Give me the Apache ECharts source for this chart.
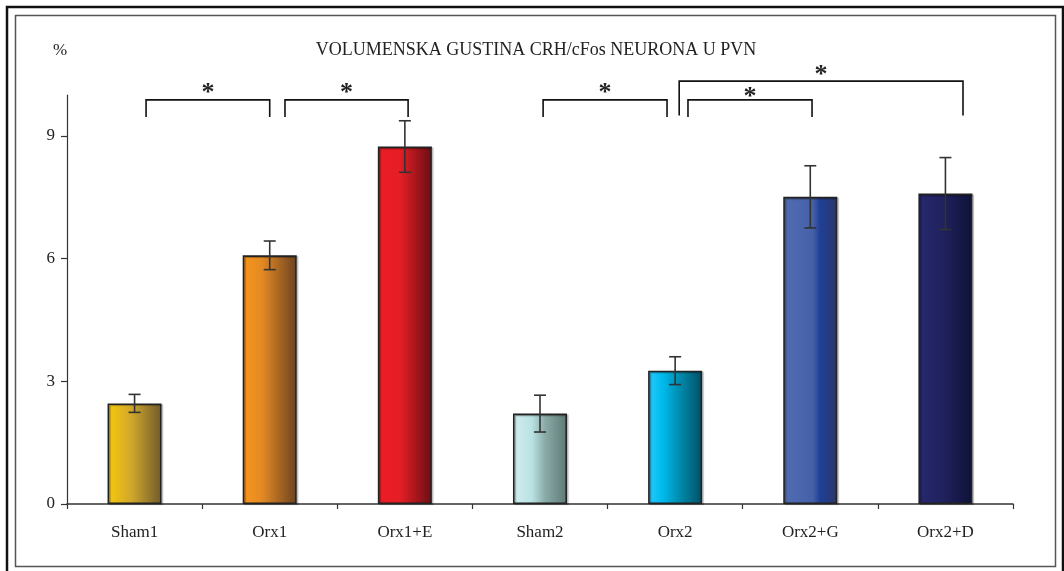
<!DOCTYPE html>
<html>
<head>
<meta charset="utf-8">
<script src="https://cdn.jsdelivr.net/npm/echarts@6/dist/echarts.min.js"></script>
<style>
  html, body { margin: 0; padding: 0; background: #ffffff; }
  #chart { width: 1064px; height: 571px; }
</style>
</head>
<body>
<div id="chart"></div>
<script>
// Groups and measured values (percent volume density, mean ± SEM)
const categories = ['Sham1', 'Orx1', 'Orx1+E', 'Sham2', 'Orx2', 'Orx2+G', 'Orx2+D'];
const means = [2.46, 6.08, 8.74, 2.21, 3.26, 7.51, 7.59];
const sems = [0.22, 0.35, 0.63, 0.45, 0.34, 0.76, 0.88];
const yTicks = [0, 3, 6, 9];

// Significance brackets: [fromGroup, fromShift, toGroup, toShift, barLevel, legEnd, starLevel]
const brackets = [
  [0, 0.085, 1, 0.0, 9.88, 9.46, 10.20],
  [1, 0.113, 2, 0.024, 9.88, 9.46, 10.20],
  [3, 0.023, 4, -0.06, 9.88, 9.46, 10.20],
  [4, 0.095, 5, 0.013, 9.88, 9.46, 10.10],
  [4, 0.03, 6, 0.13, 10.34, 9.50, 10.64]
];

// Horizontal gradient per bar (light on the left, shaded on the right)
const barGradients = [
  [[0, '#f8ca0c'], [0.45, '#cfa62c'], [1, '#6f5a2c']],
  [[0, '#f8951c'], [0.35, '#e48a24'], [1, '#6b4321']],
  [[0, '#ec1c24'], [0.4, '#e61e26'], [1, '#6a0e13']],
  [[0, '#d3edf1'], [0.35, '#b9e2e3'], [0.6, '#89aaa7'], [1, '#5e7974']],
  [[0, '#2cc8f6'], [0.25, '#00bdf0'], [0.6, '#0089ab'], [1, '#004f66']],
  [[0, '#506db2'], [0.55, '#4660a8'], [0.68, '#1f4096'], [1, '#2c3568']],
  [[0, '#28296f'], [0.5, '#1f205b'], [1, '#0d1238']]
];

const serif = '"Liberation Serif", "DejaVu Serif", serif';
const chart = echarts.init(document.getElementById('chart'), null, { renderer: 'canvas' });

const barData = means.map((v, i) => ({
  value: v,
  itemStyle: {
    color: new echarts.graphic.LinearGradient(0, 0, 1, 0,
      barGradients[i].map(s => ({ offset: s[0], color: s[1] })))
  }
}));

const errData = means.map((v, i) => [i, v - sems[i], v + sems[i]]);

chart.setOption({
  animation: false,
  backgroundColor: '#ffffff',
  title: [
    {
      text: 'VOLUMENSKA GUSTINA CRH/cFos NEURONA U PVN',
      left: 531, top: 36, textAlign: 'center',
      textStyle: { fontFamily: serif, fontSize: 18, fontWeight: 'normal', color: '#222' }
    },
    {
      text: '%',
      left: 55, top: 37, textAlign: 'center',
      textStyle: { fontFamily: serif, fontSize: 17, fontWeight: 'normal', color: '#222' }
    }
  ],
  grid: { left: 67, right: 51, top: 95, bottom: 67, containLabel: false },
  xAxis: {
    type: 'category',
    data: categories,
    axisLine: { lineStyle: { color: '#333', width: 1.5 } },
    axisTick: { show: true, length: 5, lineStyle: { color: '#333', width: 1.2 } },
    axisLabel: { margin: 20, fontFamily: serif, fontSize: 17, color: '#222' }
  },
  yAxis: {
    type: 'value',
    min: 0, max: 10,
    axisLine: { show: true, lineStyle: { color: '#333', width: 1.2 } },
    axisTick: { show: true, length: 6, customValues: yTicks, lineStyle: { color: '#333', width: 1.2 } },
    axisLabel: { customValues: yTicks, margin: 12, fontFamily: serif, fontSize: 17, color: '#222' },
    splitLine: { show: false }
  },
  series: [
    {
      type: 'bar',
      data: barData,
      barWidth: '40%',
      itemStyle: {
        borderColor: '#222', borderWidth: 1.6,
        shadowColor: 'rgba(0,0,0,0.3)', shadowOffsetX: 1.5, shadowOffsetY: 1, shadowBlur: 1
      },
      z: 2
    },
    {
      type: 'custom',
      data: errData,
      encode: { x: 0, y: [1, 2] },
      z: 5,
      renderItem: function (params, api) {
        const x = api.value(0);
        const lo = api.coord([x, api.value(1)]);
        const hi = api.coord([x, api.value(2)]);
        const half = 6;
        const style = { stroke: '#333', lineWidth: 1.6 };
        return {
          type: 'group',
          children: [
            { type: 'line', shape: { x1: hi[0], y1: hi[1], x2: lo[0], y2: lo[1] }, style },
            { type: 'line', shape: { x1: hi[0] - half, y1: hi[1], x2: hi[0] + half, y2: hi[1] }, style },
            { type: 'line', shape: { x1: lo[0] - half, y1: lo[1], x2: lo[0] + half, y2: lo[1] }, style }
          ]
        };
      }
    }
  ]
});

// Significance brackets and page frame, placed through the axis scales
const p0 = chart.convertToPixel({ gridIndex: 0 }, [0, 0]);
const p1 = chart.convertToPixel({ gridIndex: 0 }, [1, 0]);
const band = p1[0] - p0[0];
function px(idx, shift) { return chart.convertToPixel({ gridIndex: 0 }, [idx, 0])[0] + shift * band; }
function py(v) { return chart.convertToPixel({ gridIndex: 0 }, [0, v])[1]; }

const graphics = [
  { type: 'rect', shape: { x: 7, y: 7, width: 1056, height: 566 }, style: { fill: 'none', stroke: '#111', lineWidth: 2.5 }, silent: true },
  { type: 'rect', shape: { x: 15.5, y: 15.5, width: 1040, height: 551 }, style: { fill: 'none', stroke: '#555', lineWidth: 1.5 }, silent: true }
];
brackets.forEach(b => {
  const xa = px(b[0], b[1]), xb = px(b[2], b[3]);
  const yt = py(b[4]), yl = py(b[5]), ys = py(b[6]);
  graphics.push({
    type: 'polyline',
    shape: { points: [[xa, yl], [xa, yt], [xb, yt], [xb, yl]] },
    style: { fill: 'none', stroke: '#111', lineWidth: 1.6 },
    silent: true
  });
  graphics.push({
    type: 'text',
    x: (xa + xb) / 2, y: ys + 6,
    style: { text: '*', font: 'bold 26px ' + serif, fill: '#222', align: 'center', verticalAlign: 'middle' },
    silent: true
  });
});
chart.setOption({ graphic: graphics });
</script>
</body>
</html>
